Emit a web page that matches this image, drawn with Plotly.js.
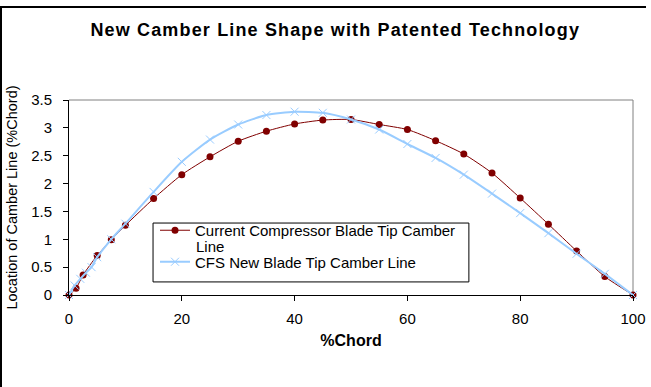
<!DOCTYPE html>
<html>
<head>
<meta charset="utf-8">
<script src="https://cdn.plot.ly/plotly-3.0.1.min.js"></script>
<style>
html,body{margin:0;padding:0;background:#fff;}
#wrap{position:relative;width:651px;height:387px;}
#chart{width:651px;height:387px;}
#frame{position:absolute;left:0;top:6px;width:646px;height:381px;border-top:2px solid #000;border-left:2px solid #000;pointer-events:none;box-sizing:border-box;}
.gtitle{letter-spacing:1.15px;}
</style>
</head>
<body>
<div id="wrap"><div id="chart"></div><div id="frame"></div></div>
<script>
var currentX = [0, 1.25, 2.5, 5, 7.5, 10, 15, 20, 25, 30, 35, 40, 45, 50, 55, 60, 65, 70, 75, 80, 85, 90, 95, 100];
var currentY = [0, 0.12, 0.36, 0.71, 0.99, 1.25, 1.73, 2.16, 2.48, 2.76, 2.94, 3.07, 3.14, 3.15, 3.06, 2.97, 2.77, 2.53, 2.19, 1.74, 1.27, 0.79, 0.33, 0];
var cfsX = [0, 1, 2, 3, 4, 5, 7.5, 10, 15, 20, 25, 30, 35, 40, 45, 50, 55, 60, 65, 70, 75, 80, 85, 90, 95, 100];
var cfsY = [0, 0.17, 0.29, 0.40, 0.50, 0.68, 1.00, 1.28, 1.85, 2.39, 2.79, 3.06, 3.23, 3.29, 3.27, 3.15, 2.97, 2.71, 2.46, 2.16, 1.82, 1.47, 1.11, 0.74, 0.38, 0];
var xTicks = [0, 20, 40, 60, 80, 100];
var yTicks = [0, 0.5, 1, 1.5, 2, 2.5, 3, 3.5];
var seriesNames = ["Current Compressor Blade Tip Camber", "CFS New Blade Tip Camber Line"];
var wrappedTail = "Line";

var font = "Liberation Sans, Arial, sans-serif";
var traces = [
  {x: currentX, y: currentY, name: seriesNames[0], legendgroup: "a", type: "scatter", mode: "lines+markers",
   line: {color: "#800000", width: 1, shape: "spline", smoothing: 0.6},
   marker: {symbol: "circle", size: 7, color: "#800000"}, cliponaxis: false},
  {x: cfsX, y: cfsY, name: seriesNames[1], legendgroup: "b", type: "scatter", mode: "lines+markers",
   line: {color: "#99CCFF", width: 2, shape: "spline", smoothing: 0.6},
   marker: {symbol: "x-thin", size: 8, color: "#99CCFF", line: {color: "#99CCFF", width: 1}}, cliponaxis: false}
];
var layout = {
  width: 651, height: 387,
  margin: {l: 69, r: 18, t: 100, b: 92},
  paper_bgcolor: "#fff", plot_bgcolor: "#fff",
  font: {family: font, size: 15, color: "#000"},
  title: {text: "<b>New Camber Line Shape with Patented Technology</b>", x: 0.515, xanchor: "center", y: 0.922, yanchor: "middle",
          font: {family: font, size: 18, color: "#000"}},
  showlegend: true,
  legend: {x: 0.1525, y: 0.4154, xanchor: "left", yanchor: "top", bgcolor: "rgba(0,0,0,0)", borderwidth: 0,
           font: {family: font, size: 15, color: "#000"}, valign: "middle", tracegroupgap: 9},
  annotations: [
    {text: wrappedTail, xref: "paper", yref: "paper", x: 0.2216, y: 0.2462, xanchor: "left", yanchor: "middle",
     showarrow: false, font: {family: font, size: 15, color: "#000"}}
  ],
  xaxis: {range: [0, 100], tickvals: xTicks, ticks: "outside", ticklen: 5, tickcolor: "#000",
          showline: true, linecolor: "#000", linewidth: 1, showgrid: false, zeroline: false,
          ticklabelstandoff: 5, tickfont: {size: 15},
          title: {text: "<b>%Chord</b>", font: {size: 16}, standoff: 8}, fixedrange: true},
  yaxis: {range: [0, 3.5], tickvals: yTicks, ticks: "outside", ticklen: 5, tickcolor: "#000",
          showline: true, linecolor: "#000", linewidth: 1, showgrid: false, zeroline: false,
          ticklabelstandoff: 8, tickfont: {size: 15},
          title: {text: "Location of Camber Line (%Chord)", font: {size: 14.5}, standoff: 10}, fixedrange: true},
  shapes: [
    {type: "line", xref: "paper", yref: "paper", x0: 0, x1: 1, y0: 1, y1: 1, line: {color: "#808080", width: 1}, layer: "below"},
    {type: "line", xref: "paper", yref: "paper", x0: 1, x1: 1, y0: 0, y1: 1, line: {color: "#808080", width: 1}, layer: "below"},
    {type: "rect", xref: "paper", yref: "paper", x0: 0.149, x1: 0.709, y0: 0.067, y1: 0.369,
     line: {color: "#000", width: 1}, fillcolor: "#fff", layer: "above"}
  ]
};
Plotly.newPlot("chart", traces, layout, {staticPlot: true, displayModeBar: false});
</script>
</body>
</html>
